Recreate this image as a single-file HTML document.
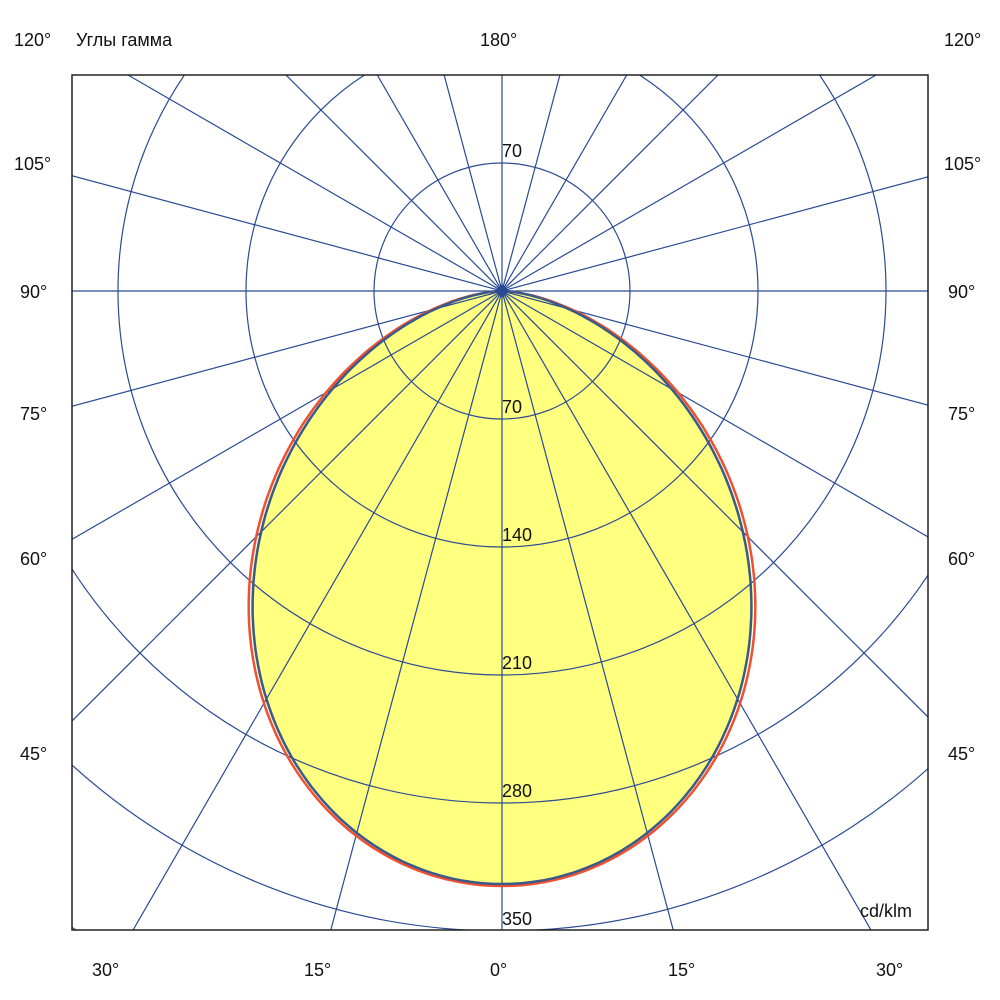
<!DOCTYPE html>
<html><head><meta charset="utf-8"><style>
html,body{margin:0;padding:0;background:#fff;width:1000px;height:1000px;overflow:hidden}
svg{display:block;font-family:"Liberation Sans",Arial,sans-serif}
</style></head><body>
<svg id="s" width="1000" height="1000" viewBox="0 0 1000 1000" xmlns="http://www.w3.org/2000/svg">
<defs><clipPath id="c"><rect x="72" y="75" width="856" height="855"/></clipPath></defs>
<rect width="1000" height="1000" fill="#fff"/>
<g id="fill" clip-path="url(#c)"></g>
<g id="grid" clip-path="url(#c)" stroke="#2a4a94" stroke-width="1.2" fill="none"></g>
<g id="curves" clip-path="url(#c)" fill="none"></g>
<rect x="72" y="75" width="856" height="855" fill="none" stroke="#222" stroke-width="1.5"/>
<path d="M502 284 L509 291 L502 298 L495 291Z" fill="#2a4a94"/>
<g font-size="18" fill="#111">
<text x="14" y="46">120°</text><text x="76" y="46">Углы гамма</text><text x="480" y="46">180°</text><text x="944" y="46">120°</text>
<text x="14" y="170">105°</text><text x="944" y="170">105°</text>
<text x="20" y="298">90°</text><text x="948" y="298">90°</text>
<text x="20" y="420">75°</text><text x="948" y="420">75°</text>
<text x="20" y="565">60°</text><text x="948" y="565">60°</text>
<text x="20" y="760">45°</text><text x="948" y="760">45°</text>
<text x="92" y="976">30°</text><text x="304" y="976">15°</text><text x="490" y="976">0°</text><text x="668" y="976">15°</text><text x="876" y="976">30°</text>
<text x="502" y="157">70</text>
<text x="502" y="413">70</text>
<text x="502" y="541">140</text>
<text x="502" y="669">210</text>
<text x="502" y="797">280</text>
<text x="502" y="925">350</text>
<text x="860" y="917">cd/klm</text>
</g>
</svg>
<script>
var cx=502,cy=291,ns="http://www.w3.org/2000/svg";
function el(p,t,a){var e=document.createElementNS(ns,t);for(var k in a)e.setAttribute(k,a[k]);document.getElementById(p).appendChild(e);return e;}
function curve(R,k){var d="";for(var i=-90;i<=90;i+=0.5){var t=i*Math.PI/180,c=Math.cos(t);var r=R*Math.pow(Math.max(c,0),k);var x=cx+r*Math.sin(t),y=cy+r*c;d+=(i==-90?"M":"L")+x.toFixed(1)+" "+y.toFixed(1);}return d+"Z";}
el("fill","path",{d:curve(594,1.58),fill:"#ffff80"});
for(var i=1;i<=6;i++)el("grid","circle",{cx:cx,cy:cy,r:128*i});
for(var a=0;a<180;a+=15){var t=a*Math.PI/180,L=1400;el("grid","line",{x1:cx-L*Math.sin(t),y1:cy-L*Math.cos(t),x2:cx+L*Math.sin(t),y2:cy+L*Math.cos(t)});}
el("curves","path",{d:curve(595,1.55),stroke:"#f05030","stroke-width":"2.5"});
el("curves","path",{d:curve(593,1.6),stroke:"#3a5a8a","stroke-width":"2.5"});
</script>
</body></html>
